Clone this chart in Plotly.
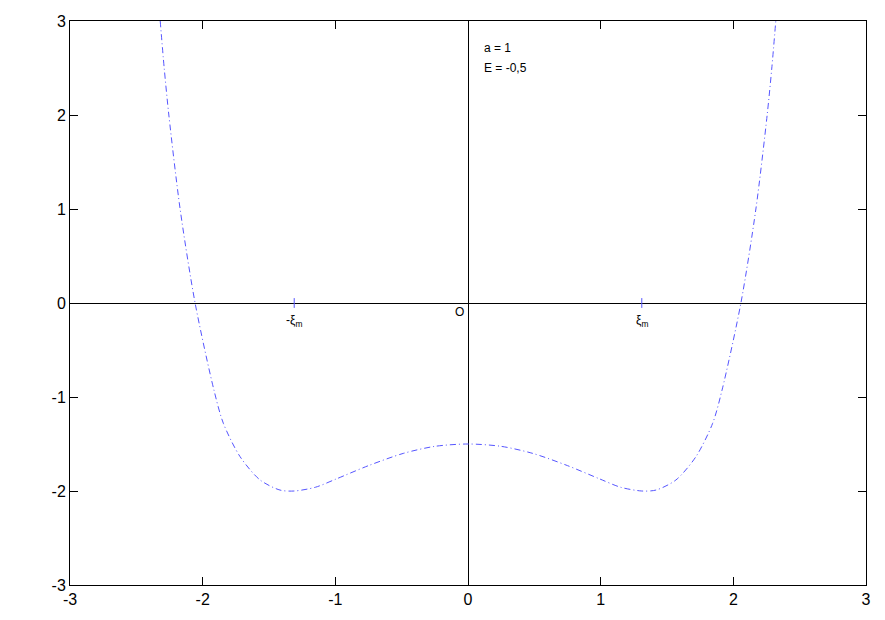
import plotly.graph_objects as go

# Curve
xi = [-2.32, -2.29, -2.255, -2.17, -2.057, -1.915, -1.844, -1.718, -1.567, -1.417, -1.31,
      -1.15, -0.99, -0.75, -0.488, -0.25, 0.0,
      0.25, 0.488, 0.75, 0.99, 1.15, 1.31, 1.417, 1.567, 1.718, 1.844, 1.915, 2.057, 2.17, 2.255, 2.29, 2.32]
V = [3.0, 2.5, 2.0, 1.0, 0.0, -0.926, -1.28, -1.635, -1.883, -1.99, -2.0,
     -1.96, -1.87, -1.73, -1.60, -1.525, -1.5,
     -1.525, -1.60, -1.73, -1.87, -1.96, -2.0, -1.99, -1.883, -1.635, -1.28, -0.926, 0.0, 1.0, 2.0, 2.5, 3.0]

xi_m = 1.31
tick_vals = [-3, -2, -1, 0, 1, 2, 3]
tick_text = ["-3", "-2", "-1", "0", "1", "2", "3"]

fig = go.Figure()
fig.add_trace(go.Scatter(
    x=xi, y=V, mode="lines",
    line=dict(color="#5555ff", width=1, dash="6px,3px,1px,3px", shape="spline", smoothing=0.8),
    hoverinfo="skip", showlegend=False))
fig.add_trace(go.Scatter(
    x=[-xi_m, xi_m], y=[0, 0], mode="markers",
    marker=dict(symbol="line-ns", size=7, line=dict(color="#5555ff", width=1)),
    showlegend=False, hoverinfo="skip"))

font = dict(family="Liberation Sans, Arial, sans-serif", size=16, color="black")
axis_common = dict(
    tickmode="array", tickvals=tick_vals, ticktext=tick_text,
    ticks="inside", ticklen=8, tickwidth=1, tickcolor="black",
    showline=True, linecolor="black", linewidth=1, mirror="ticks",
    showgrid=False, zeroline=True, zerolinecolor="black", zerolinewidth=1,
    tickfont=font, automargin=False,
)
fig.update_xaxes(range=[-3, 3], **axis_common)
fig.update_yaxes(range=[-3, 3], **axis_common)

small = dict(family="Liberation Sans, Arial, sans-serif", size=12, color="black")
fig.add_annotation(x=-xi_m, y=0, text="-ξ<sub>m</sub>", showarrow=False,
                   yshift=-18, font=small)
fig.add_annotation(x=xi_m, y=0, text="ξ<sub>m</sub>", showarrow=False,
                   yshift=-18, font=small)
fig.add_annotation(x=0, y=0, text="O", showarrow=False, xshift=-9, yshift=-9, font=small)
fig.add_annotation(x=0, y=3, text="a = 1", showarrow=False,
                   xanchor="left", yanchor="middle", align="left", xshift=14, yshift=-27, font=small)
fig.add_annotation(x=0, y=3, text="E = -0,5", showarrow=False,
                   xanchor="left", yanchor="middle", align="left", xshift=14, yshift=-47, font=small)

fig.update_layout(
    width=885, height=620,
    margin=dict(l=62, r=27, t=13, b=43),
    paper_bgcolor="white", plot_bgcolor="white",
    showlegend=False,
)
fig.write_html("out.html")
